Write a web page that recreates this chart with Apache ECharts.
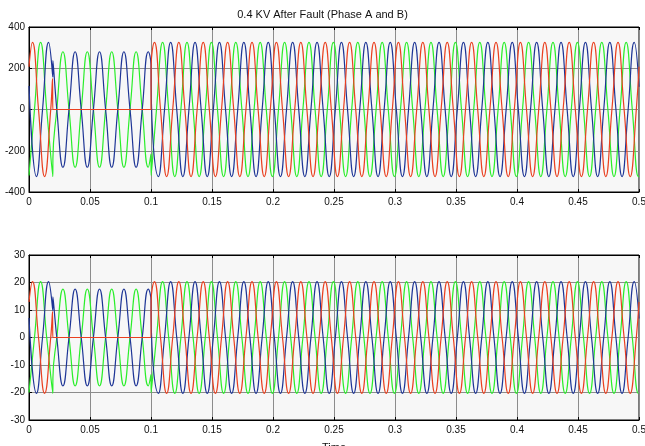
<!DOCTYPE html>
<html>
<head>
<meta charset="utf-8">
<script src="https://cdn.jsdelivr.net/npm/echarts@6/dist/echarts.min.js"></script>
<style>
  html, body { margin: 0; padding: 0; background: #ffffff; }
  #chart { width: 645px; height: 446px; }
</style>
</head>
<body>
<div id="chart"></div>
<script>
// Sample instants (s) for each phase: crests, zero crossings and switching edges
const timeA = [
  0, 0.0028, 0.0078, 0.0128, 0.0178, 0.0193, 0.0195,
  0.1, 0.1001,
  0.1028, 0.1078, 0.1128, 0.1178, 0.1228, 0.1278, 0.1328, 0.1378, 0.1428, 0.1478,
  0.1528, 0.1578, 0.1628, 0.1678, 0.1728, 0.1778, 0.1828, 0.1878, 0.1928, 0.1978,
  0.2028, 0.2078, 0.2128, 0.2178, 0.2228, 0.2278, 0.2328, 0.2378, 0.2428, 0.2478,
  0.2528, 0.2578, 0.2628, 0.2678, 0.2728, 0.2778, 0.2828, 0.2878, 0.2928, 0.2978,
  0.3028, 0.3078, 0.3128, 0.3178, 0.3228, 0.3278, 0.3328, 0.3378, 0.3428, 0.3478,
  0.3528, 0.3578, 0.3628, 0.3678, 0.3728, 0.3778, 0.3828, 0.3878, 0.3928, 0.3978,
  0.4028, 0.4078, 0.4128, 0.4178, 0.4228, 0.4278, 0.4328, 0.4378, 0.4428, 0.4478,
  0.4528, 0.4578, 0.4628, 0.4678, 0.4728, 0.4778, 0.4828, 0.4878, 0.4928, 0.4978,
  0.5
];
const timeB = [
  0, 0.0045, 0.0095, 0.0145, 0.0195,
  0.0196, 0.0228, 0.0278, 0.0328, 0.0378, 0.0428, 0.0478, 0.0528, 0.0578, 0.0628,
  0.0678, 0.0728, 0.0778, 0.0828, 0.0878, 0.0928, 0.0978, 0.1,
  0.1001,
  0.1045, 0.1095, 0.1145, 0.1195, 0.1245, 0.1295, 0.1345, 0.1395, 0.1445, 0.1495,
  0.1545, 0.1595, 0.1645, 0.1695, 0.1745, 0.1795, 0.1845, 0.1895, 0.1945, 0.1995,
  0.2045, 0.2095, 0.2145, 0.2195, 0.2245, 0.2295, 0.2345, 0.2395, 0.2445, 0.2495,
  0.2545, 0.2595, 0.2645, 0.2695, 0.2745, 0.2795, 0.2845, 0.2895, 0.2945, 0.2995,
  0.3045, 0.3095, 0.3145, 0.3195, 0.3245, 0.3295, 0.3345, 0.3395, 0.3445, 0.3495,
  0.3545, 0.3595, 0.3645, 0.3695, 0.3745, 0.3795, 0.3845, 0.3895, 0.3945, 0.3995,
  0.4045, 0.4095, 0.4145, 0.4195, 0.4245, 0.4295, 0.4345, 0.4395, 0.4445, 0.4495,
  0.4545, 0.4595, 0.4645, 0.4695, 0.4745, 0.4795, 0.4845, 0.4895, 0.4945, 0.4995,
  0.5
];
const timeC = [
  0, 0.0061, 0.0111, 0.0161, 0.0195,
  0.0196, 0.0228, 0.0278, 0.0328, 0.0378, 0.0428, 0.0478, 0.0528, 0.0578, 0.0628,
  0.0678, 0.0728, 0.0778, 0.0828, 0.0878, 0.0928, 0.0978, 0.1,
  0.1001,
  0.1061, 0.1111, 0.1161, 0.1211, 0.1261, 0.1311, 0.1361, 0.1411, 0.1461, 0.1511,
  0.1561, 0.1611, 0.1661, 0.1711, 0.1761, 0.1811, 0.1861, 0.1911, 0.1961, 0.2011,
  0.2061, 0.2111, 0.2161, 0.2211, 0.2261, 0.2311, 0.2361, 0.2411, 0.2461, 0.2511,
  0.2561, 0.2611, 0.2661, 0.2711, 0.2761, 0.2811, 0.2861, 0.2911, 0.2961, 0.3011,
  0.3061, 0.3111, 0.3161, 0.3211, 0.3261, 0.3311, 0.3361, 0.3411, 0.3461, 0.3511,
  0.3561, 0.3611, 0.3661, 0.3711, 0.3761, 0.3811, 0.3861, 0.3911, 0.3961, 0.4011,
  0.4061, 0.4111, 0.4161, 0.4211, 0.4261, 0.4311, 0.4361, 0.4411, 0.4461, 0.4511,
  0.4561, 0.4611, 0.4661, 0.4711, 0.4761, 0.4811, 0.4861, 0.4911, 0.4961,
  0.5
];

// Voltage readings (V), upper panel
const voltA = [
  207, 325, 0, -325, 0, 150, 0,
  0, 207,
  325, 0, -325, 0, 325, 0, -325, 0, 325, 0,
  -325, 0, 325, 0, -325, 0, 325, 0, -325, 0,
  325, 0, -325, 0, 325, 0, -325, 0, 325, 0,
  -325, 0, 325, 0, -325, 0, 325, 0, -325, 0,
  325, 0, -325, 0, 325, 0, -325, 0, 325, 0,
  -325, 0, 325, 0, -325, 0, 325, 0, -325, 0,
  325, 0, -325, 0, 325, 0, -325, 0, 325, 0,
  -325, 0, 325, 0, -325, 0, 325, 0, -325, 0,
  207
];
const voltB = [
  -320, 0, 325, 0, -325,
  -237, 0, 280, 0, -280, 0, 280, 0, -280, 0,
  280, 0, -280, 0, 280, 0, -280, -216,
  -320,
  0, 325, 0, -325, 0, 325, 0, -325, 0, 325,
  0, -325, 0, 325, 0, -325, 0, 325, 0, -325,
  0, 325, 0, -325, 0, 325, 0, -325, 0, 325,
  0, -325, 0, 325, 0, -325, 0, 325, 0, -325,
  0, 325, 0, -325, 0, 325, 0, -325, 0, 325,
  0, -325, 0, 325, 0, -325, 0, 325, 0, -325,
  0, 325, 0, -325, 0, 325, 0, -325, 0, 325,
  0, -325, 0, 325, 0, -325, 0, 325, 0, -325,
  -323
];
const voltC = [
  114, -325, 0, 325, 158,
  237, 0, -280, 0, 280, 0, -280, 0, 280, 0,
  -280, 0, 280, 0, -280, 0, 280, 216,
  114,
  -325, 0, 325, 0, -325, 0, 325, 0, -325, 0,
  325, 0, -325, 0, 325, 0, -325, 0, 325, 0,
  -325, 0, 325, 0, -325, 0, 325, 0, -325, 0,
  325, 0, -325, 0, 325, 0, -325, 0, 325, 0,
  -325, 0, 325, 0, -325, 0, 325, 0, -325, 0,
  325, 0, -325, 0, 325, 0, -325, 0, 325, 0,
  -325, 0, 325, 0, -325, 0, 325, 0, -325, 0,
  325, 0, -325, 0, 325, 0, -325, 0, 325,
  110
];

// Current readings (A), lower panel
const currA = [
  12.9, 20.3, 0, -20.3, 0, 9.4, 0,
  0, 12.9,
  20.3, 0, -20.3, 0, 20.3, 0, -20.3, 0, 20.3, 0,
  -20.3, 0, 20.3, 0, -20.3, 0, 20.3, 0, -20.3, 0,
  20.3, 0, -20.3, 0, 20.3, 0, -20.3, 0, 20.3, 0,
  -20.3, 0, 20.3, 0, -20.3, 0, 20.3, 0, -20.3, 0,
  20.3, 0, -20.3, 0, 20.3, 0, -20.3, 0, 20.3, 0,
  -20.3, 0, 20.3, 0, -20.3, 0, 20.3, 0, -20.3, 0,
  20.3, 0, -20.3, 0, 20.3, 0, -20.3, 0, 20.3, 0,
  -20.3, 0, 20.3, 0, -20.3, 0, 20.3, 0, -20.3, 0,
  12.9
];
const currB = [
  -20, 0, 20.3, 0, -20.3,
  -14.8, 0, 17.6, 0, -17.6, 0, 17.6, 0, -17.6, 0,
  17.6, 0, -17.6, 0, 17.6, 0, -17.6, -13.5,
  -20,
  0, 20.3, 0, -20.3, 0, 20.3, 0, -20.3, 0, 20.3,
  0, -20.3, 0, 20.3, 0, -20.3, 0, 20.3, 0, -20.3,
  0, 20.3, 0, -20.3, 0, 20.3, 0, -20.3, 0, 20.3,
  0, -20.3, 0, 20.3, 0, -20.3, 0, 20.3, 0, -20.3,
  0, 20.3, 0, -20.3, 0, 20.3, 0, -20.3, 0, 20.3,
  0, -20.3, 0, 20.3, 0, -20.3, 0, 20.3, 0, -20.3,
  0, 20.3, 0, -20.3, 0, 20.3, 0, -20.3, 0, 20.3,
  0, -20.3, 0, 20.3, 0, -20.3, 0, 20.3, 0, -20.3,
  -20.2
];
const currC = [
  7.1, -20.3, 0, 20.3, 9.9,
  14.8, 0, -17.6, 0, 17.6, 0, -17.6, 0, 17.6, 0,
  -17.6, 0, 17.6, 0, -17.6, 0, 17.6, 13.5,
  7.1,
  -20.3, 0, 20.3, 0, -20.3, 0, 20.3, 0, -20.3, 0,
  20.3, 0, -20.3, 0, 20.3, 0, -20.3, 0, 20.3, 0,
  -20.3, 0, 20.3, 0, -20.3, 0, 20.3, 0, -20.3, 0,
  20.3, 0, -20.3, 0, 20.3, 0, -20.3, 0, 20.3, 0,
  -20.3, 0, 20.3, 0, -20.3, 0, 20.3, 0, -20.3, 0,
  20.3, 0, -20.3, 0, 20.3, 0, -20.3, 0, 20.3, 0,
  -20.3, 0, 20.3, 0, -20.3, 0, 20.3, 0, -20.3, 0,
  20.3, 0, -20.3, 0, 20.3, 0, -20.3, 0, 20.3,
  6.9
];

const timeTicks = ['0', '0.05', '0.1', '0.15', '0.2', '0.25', '0.3', '0.35', '0.4', '0.45', '0.5'];
const titleText = '0.4 KV After Fault (Phase A and B)';
const xName = 'Time';

const FONT = '"Liberation Sans", Arial, sans-serif';
const COLORS = { a: '#ea4020', b: '#2aee2a', c: '#1e3596' };
const GRID_LINE = '#8c8c8c';

function pairs(times, values) {
  return times.map((t, i) => [t, values[i]]);
}

// Bottom axis carries labels and grid lines; the top one only adds inward ticks
function xAxes(gridIndex, withName) {
  const bottom = {
    gridIndex, type: 'value', position: 'bottom', min: 0, max: 0.5, interval: 0.05,
    axisLine: { onZero: false, lineStyle: { color: '#000', width: 1 } },
    axisTick: { inside: true, length: 3, lineStyle: { color: '#000' } },
    axisLabel: {
      margin: 5, fontSize: 10, fontFamily: FONT, color: '#111',
      formatter: v => timeTicks[Math.round(v / 0.05)]
    },
    splitLine: { show: true, lineStyle: { color: GRID_LINE, width: 1 } }
  };
  if (withName) {
    Object.assign(bottom, {
      name: xName, nameLocation: 'middle', nameGap: 22,
      nameTextStyle: { fontSize: 11, fontFamily: FONT, color: '#111' }
    });
  }
  const top = {
    gridIndex, type: 'value', position: 'top', min: 0, max: 0.5, interval: 0.05,
    axisLine: { onZero: false, lineStyle: { color: '#000', width: 1 } },
    axisTick: { inside: true, length: 3, lineStyle: { color: '#000' } },
    axisLabel: { show: false },
    splitLine: { show: false }
  };
  return [bottom, top];
}

function yAxis(gridIndex, min, max, interval) {
  return {
    gridIndex, type: 'value', position: 'left', min, max, interval,
    axisLine: { onZero: false, lineStyle: { color: '#000', width: 1 } },
    axisTick: { inside: true, length: 3, lineStyle: { color: '#000' } },
    axisLabel: { margin: 4, fontSize: 10, fontFamily: FONT, color: '#111' },
    splitLine: { show: true, lineStyle: { color: GRID_LINE, width: 1 } }
  };
}

function trace(name, xi, yi, data, color, z) {
  return {
    name, type: 'line', xAxisIndex: xi, yAxisIndex: yi, data, z,
    showSymbol: false, smooth: 0.5, clip: true,
    lineStyle: { color, width: 1.2 },
    emphasis: { disabled: true }
  };
}

// Each panel: light plot area with a black frame
const panel = top => ({
  left: 29, right: 6, top, height: 165, outerBoundsMode: 'none',
  show: true, backgroundColor: '#f7f7f7', borderColor: '#000', borderWidth: 1
});

const chart = echarts.init(document.getElementById('chart'), null, { renderer: 'canvas' });
chart.setOption({
  animation: false,
  backgroundColor: '#ffffff',
  title: {
    text: titleText, left: 'center', top: 4,
    textStyle: { fontSize: 11, fontWeight: 'normal', fontFamily: FONT, color: '#111' }
  },
  grid: [panel(27), panel(255)],
  xAxis: [...xAxes(0, false), ...xAxes(1, true)],
  yAxis: [yAxis(0, -400, 400, 200), yAxis(1, -30, 30, 10)],
  series: [
    trace('Vb', 0, 0, pairs(timeB, voltB), COLORS.b, 10),
    trace('Vc', 0, 0, pairs(timeC, voltC), COLORS.c, 11),
    trace('Va', 0, 0, pairs(timeA, voltA), COLORS.a, 12),
    trace('Ib', 2, 1, pairs(timeB, currB), COLORS.b, 10),
    trace('Ic', 2, 1, pairs(timeC, currC), COLORS.c, 11),
    trace('Ia', 2, 1, pairs(timeA, currA), COLORS.a, 12)
  ]
});
</script>
</body>
</html>
